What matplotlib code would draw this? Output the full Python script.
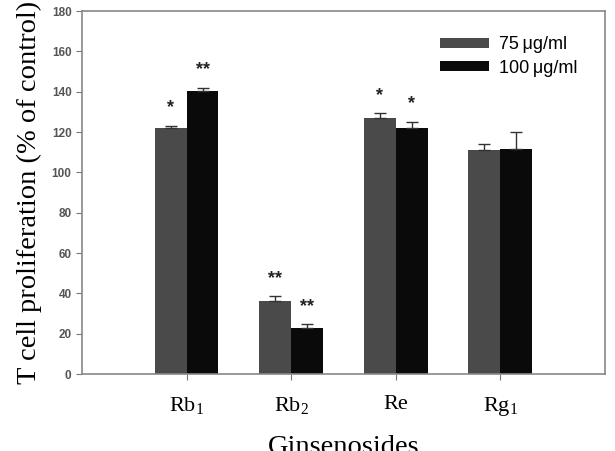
import numpy as np
import matplotlib
matplotlib.use("Agg")
from matplotlib import pyplot as plt

plt.rcParams['mathtext.fontset'] = 'custom'
plt.rcParams['mathtext.rm'] = 'Liberation Serif'
plt.rcParams['mathtext.it'] = 'Liberation Serif'

# data
ginsenosides = ['Rb$_1$', 'Rb$_2$', 'Re', 'Rg$_1$']
dose_75 = [122, 36, 127, 111]
err_75 = [1.2, 2.5, 2.3, 3.0]
dose_100 = [140.5, 23, 122, 111.5]
err_100 = [1.5, 1.6, 3.0, 8.5]
stars_75 = ['*', '**', '*', '']
stars_100 = ['**', '**', '*', '']
legend_labels = ['75\u2009\u03bcg/ml', '100\u2009\u03bcg/ml']

fig = plt.figure(figsize=(6.15, 4.51), dpi=100)
ax = fig.add_axes([0.1333, 0.1707, 0.8504, 0.8049])

x = np.arange(len(ginsenosides))
w = 0.305
ax.bar(x - w/2, dose_75, w, color='#4a4a4a', label=legend_labels[0])
ax.bar(x + w/2, dose_100, w, color='#0a0a0a', label=legend_labels[1])
ax.errorbar(x - w/2, dose_75, yerr=[np.zeros(4), err_75], fmt='none',
            ecolor='#333333', elinewidth=1, capsize=4, capthick=1)
ax.errorbar(x + w/2, dose_100, yerr=[np.zeros(4), err_100], fmt='none',
            ecolor='#333333', elinewidth=1, capsize=4, capthick=1)

for i in range(len(ginsenosides)):
    if stars_75[i]:
        ax.text(x[i] - w/2, dose_75[i] + err_75[i] + 9, stars_75[i], ha='center', va='center',
                fontsize=13, fontweight='bold', family='Liberation Sans', color='#222222')
    if stars_100[i]:
        ax.text(x[i] + w/2, dose_100[i] + err_100[i] + 9, stars_100[i], ha='center', va='center',
                fontsize=13, fontweight='bold', family='Liberation Sans', color='#222222')

ax.set_xlim(-1, 4)
ax.set_ylim(0, 180)
ax.set_yticks(np.arange(0, 181, 20))
ax.set_xticks(x)
ax.set_xticklabels(ginsenosides, family='Liberation Serif', fontsize=16)
for lab in ax.get_yticklabels():
    lab.set_family('Liberation Sans')
    lab.set_fontsize(8.5)
    lab.set_fontweight('bold')
    lab.set_color('#555555')
for s in ax.spines.values():
    s.set_color('#888888')
    s.set_linewidth(1.2)
ax.tick_params(axis='both', direction='out', length=4, color='#777777')
ax.tick_params(axis='x', pad=11)

ax.set_ylabel('T cell proliferation (% of control)', family='Liberation Serif', fontsize=20.5, labelpad=7)
ax.set_xlabel('Ginsenosides', family='Liberation Serif', fontsize=20.5, labelpad=12)

ax.legend(loc='upper left', bbox_to_anchor=(0.667, 0.955), frameon=False, borderpad=0,
          handlelength=2.7, handleheight=0.5, handletextpad=0.55, labelspacing=0.35,
          prop={'family': 'Liberation Sans', 'size': 13})

plt.savefig('out.png', dpi=100)
